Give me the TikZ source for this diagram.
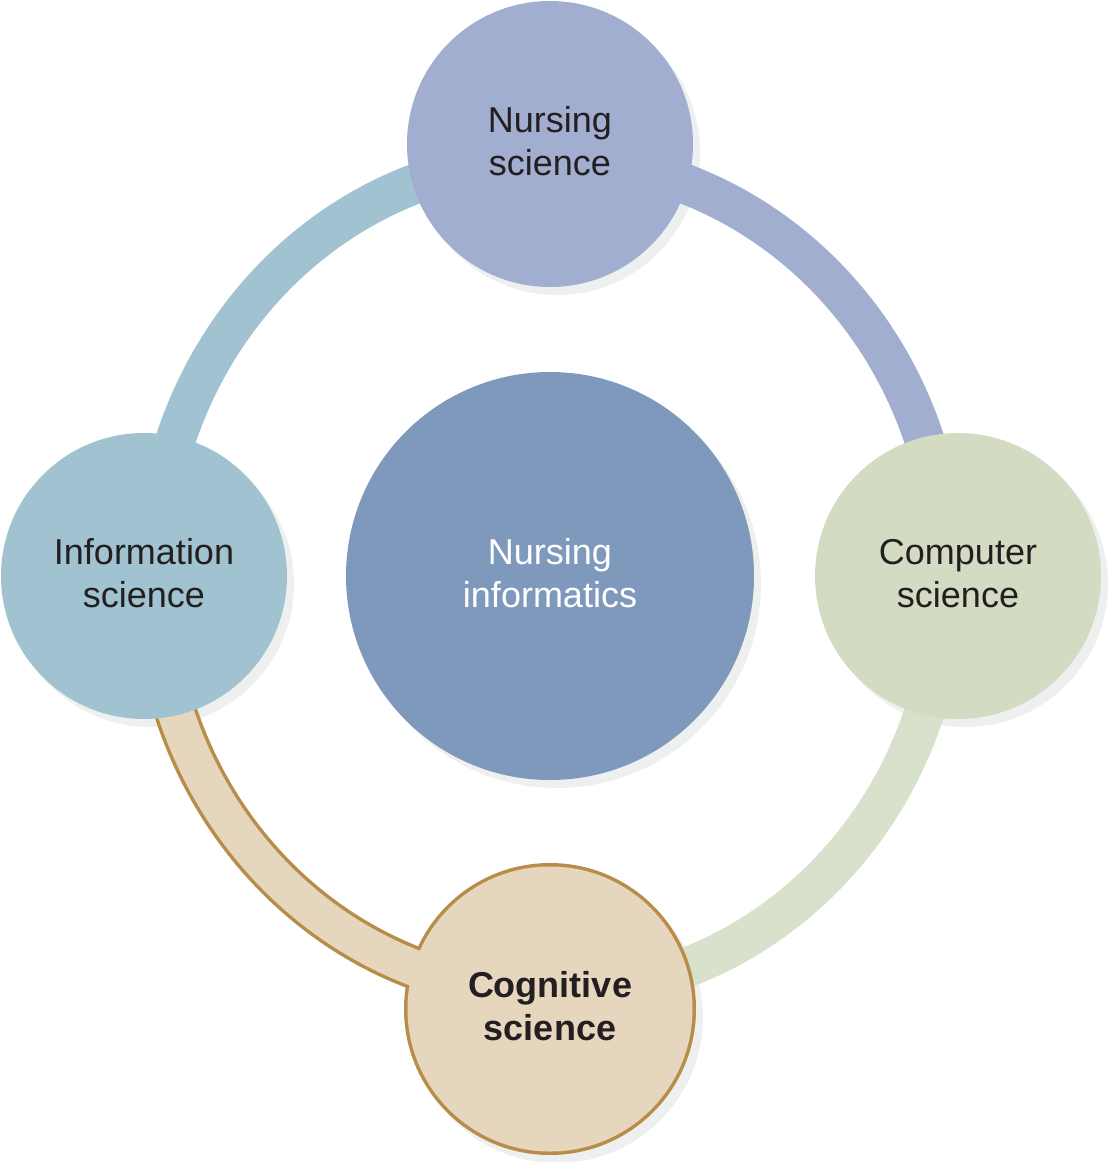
\documentclass[tikz,border=0pt]{standalone}
\usepackage{fontspec}
\setmainfont{Liberation Sans}
\definecolor{nurs}{HTML}{A2AED0}
\definecolor{info}{HTML}{A1C2D0}
\definecolor{comp}{HTML}{D3DCC3}
\definecolor{compArc}{HTML}{D8E1CC}
\definecolor{tanC}{HTML}{E6D6BE}
\definecolor{brownC}{HTML}{B88D4A}
\definecolor{centerC}{HTML}{7F99BC}
\definecolor{shadowC}{HTML}{EEEFEF}
\definecolor{txt}{HTML}{231F20}
\newcommand{\dn}{\rule[-6pt]{0pt}{0pt}}
\begin{document}
\begin{tikzpicture}[x=1pt,y=-1pt,
  sat/.style={circle, minimum size=286pt, inner sep=0pt, text=txt, align=center,
              font=\fontsize{36}{43}\selectfont},
  hub/.style={circle, minimum size=408pt, inner sep=0pt, fill=centerC, text=white, align=center,
              font=\fontsize{36}{43}\selectfont},
  ringseg/.style={line width=40pt},
  shadowdisk/.style={fill=shadowC}
]
\useasboundingbox (0,0) rectangle (1110,1162);
\coordinate (C) at (550,576);
\coordinate (pN) at (550,144);
\coordinate (pI) at (144,576);
\coordinate (pK) at (958,576);
\coordinate (pG) at (550,1009);

% shadows
\fill[shadowdisk] ([shift={(7,8)}]C) circle[radius=204];
\fill[shadowdisk] ([shift={(7,8)}]pN) circle[radius=143];
\fill[shadowdisk] ([shift={(7,8)}]pI) circle[radius=143];
\fill[shadowdisk] ([shift={(7,8)}]pK) circle[radius=143];
\fill[shadowdisk] ([shift={(7,8)}]pG) circle[radius=146];

% ring segments
\draw[ringseg, compArc] ([shift={(396,0)}]C) arc[start angle=0, end angle=90, x radius=396, y radius=417];
\draw[ringseg, info] ([shift={(-396,0)}]C) arc[start angle=180, end angle=270, x radius=396, y radius=417];
\draw[ringseg, nurs] ([shift={(0,-417)}]C) arc[start angle=270, end angle=360, x radius=396, y radius=417];

% cognitive science: merged outline with its arc
\fill[brownC] (pG) circle[radius=146];
\draw[line width=43pt, brownC] ([shift={(0,417)}]C) arc[start angle=90, end angle=180, x radius=396, y radius=417];
\draw[line width=36pt, tanC] ([shift={(0,417)}]C) arc[start angle=90, end angle=180, x radius=396, y radius=417];

% nodes
\node[hub] (ni) at (C) {Nursing\\informatics\dn};
\node[sat, fill=nurs] (ns) at (pN) {Nursing\\science\dn};
\node[sat, fill=info] (is) at (pI) {Information\\science\dn};
\node[sat, fill=comp] (cs) at (pK) {Computer\\science\dn};
\node[sat, fill=tanC, minimum size=285pt, font=\fontsize{36}{43}\selectfont\bfseries] (gs) at (pG) {Cognitive\\science\dn};
\end{tikzpicture}
\end{document}
